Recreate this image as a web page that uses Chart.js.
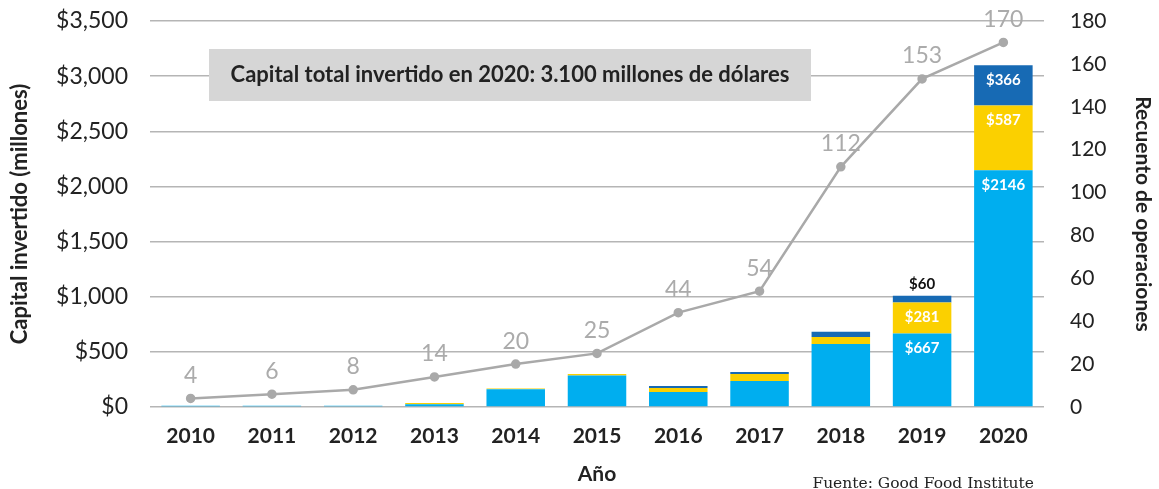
<!DOCTYPE html>
<html>
<head>
<meta charset="utf-8">
<script src="https://cdn.jsdelivr.net/npm/chart.js@4"></script>
<style>
  html, body { margin: 0; padding: 0; background: #fff; }
  #wrap { width: 1159px; height: 489px; }
</style>
</head>
<body>
<div id="wrap"><canvas id="grafico" width="1159" height="489"></canvas></div>
<script>
// --- datos ---
const anios = ['2010', '2011', '2012', '2013', '2014', '2015', '2016', '2017', '2018', '2019', '2020'];
const capitalAzul = [12, 12, 12, 25, 160, 285, 136, 236, 571, 667, 2146];
const capitalAmarillo = [0, 0, 0, 12, 8, 15, 36, 63, 63, 281, 587];
const capitalOscuro = [0, 0, 0, 0, 0, 0, 18, 18, 48, 60, 366];
const operaciones = [4, 6, 8, 14, 20, 25, 44, 54, 112, 153, 170];
const aniosConEtiqueta = ['2019', '2020'];
const titulo = 'Capital total invertido en 2020: 3.100 millones de dólares';
const fuente = 'Fuente: Good Food Institute';

const FUENTE = 'Lato, "Open Sans", sans-serif';
const ctx = document.getElementById('grafico').getContext('2d');

// --- etiquetas, recuadro y fuente ---
const extras = {
    id: 'extras',
    beforeDatasetsDraw(chart) {
        const c = chart.ctx;
        c.save();
        c.fillStyle = '#d6d6d6';
        c.fillRect(209, 49, 602, 52);
        c.fillStyle = '#222';
        c.font = 'bold 22px ' + FUENTE;
        c.textAlign = 'center';
        c.textBaseline = 'middle';
        c.fillText(titulo, 510, 75);
        c.restore();
    },
    afterDatasetsDraw(chart) {
        const c = chart.ctx;
        c.save();
        c.textAlign = 'center';
        c.textBaseline = 'middle';

        // valores de la línea
        const linea = chart.getDatasetMeta(3);
        c.fillStyle = '#ababab';
        c.font = '23px ' + FUENTE;
        linea.data.forEach((p, i) => {
            c.fillText(operaciones[i], p.x, p.y - 23);
        });

        // valores dentro de las barras
        [0, 1, 2].forEach(ds => {
            const meta = chart.getDatasetMeta(ds);
            const valores = chart.data.datasets[ds].data;
            meta.data.forEach((bar, i) => {
                if (!aniosConEtiqueta.includes(anios[i])) return;
                const top = Math.min(bar.y, bar.base);
                const alto = Math.abs(bar.base - bar.y);
                const texto = '$' + valores[i];
                c.font = 'bold 15px ' + FUENTE;
                if (alto < 20) {
                    c.fillStyle = '#111';
                    c.fillText(texto, bar.x, top - 12);
                } else {
                    c.fillStyle = '#fff';
                    c.fillText(texto, bar.x, top + Math.min(alto / 2, 15));
                }
            });
        });

        // fuente
        c.fillStyle = '#222';
        c.font = '15.5px "DejaVu Serif", serif';
        c.textAlign = 'right';
        c.textBaseline = 'alphabetic';
        c.fillText(fuente, 1034, 488);
        c.restore();
    }
};

const chart = new Chart(ctx, {
    type: 'bar',
    data: {
        labels: anios,
        datasets: [
            { label: 'Capital 1', data: capitalAzul, backgroundColor: '#00aeef', yAxisID: 'y', order: 2 },
            { label: 'Capital 2', data: capitalAmarillo, backgroundColor: '#fbd000', yAxisID: 'y', order: 2 },
            { label: 'Capital 3', data: capitalOscuro, backgroundColor: '#176ab4', yAxisID: 'y', order: 2 },
            {
                type: 'line', label: 'Operaciones', data: operaciones, yAxisID: 'y1', order: 1,
                borderColor: '#a9a9a9', backgroundColor: '#a9a9a9', borderWidth: 2.5,
                pointRadius: 3.5, pointHoverRadius: 3.5, tension: 0
            }
        ]
    },
    options: {
        responsive: false,
        animation: false,
        layout: { padding: { top: 21, bottom: 0, left: 0, right: 0 }, autoPadding: false },
        plugins: { legend: { display: false }, tooltip: { enabled: false } },
        scales: {
            x: {
                stacked: true,
                categoryPercentage: 0.68, barPercentage: 1,
                grid: { display: false, drawTicks: false },
                border: { display: false },
                ticks: { color: '#222', font: { family: FUENTE, size: 21, weight: 'bold' }, padding: 17 },
                title: { display: true, text: 'Año', color: '#222', font: { family: FUENTE, size: 21, weight: 'bold' }, padding: { top: 0, bottom: 2 } },
                afterFit(s) { s.height = 82; s.paddingLeft = 0; s.paddingRight = 0; }
            },
            y: {
                stacked: true, min: 0, max: 3500,
                ticks: {
                    stepSize: 500, color: '#222', padding: 22,
                    font: { family: FUENTE, size: 23 },
                    callback: v => '$' + v.toLocaleString('en-US')
                },
                grid: { color: '#b5b5b5', lineWidth: 1.5, drawTicks: false },
                border: { display: false },
                title: { display: true, text: 'Capital invertido (millones)', color: '#222', font: { family: FUENTE, size: 22, weight: 'bold' }, padding: { top: 7, bottom: 0 } },
                afterFit(s) { s.width = 150; s.paddingTop = 0; s.paddingBottom = 0; }
            },
            y1: {
                position: 'right', min: 0, max: 180,
                ticks: { stepSize: 20, color: '#222', padding: 26, font: { family: FUENTE, size: 21 } },
                grid: { display: false, drawTicks: false },
                border: { display: false },
                title: { display: true, text: 'Recuento de operaciones', color: '#222', font: { family: FUENTE, size: 21, weight: 'bold' }, padding: { top: 4, bottom: 2 } },
                afterFit(s) { s.width = 115; s.paddingTop = 0; s.paddingBottom = 0; }
            }
        }
    },
    plugins: [extras]
});
</script>
</body>
</html>
